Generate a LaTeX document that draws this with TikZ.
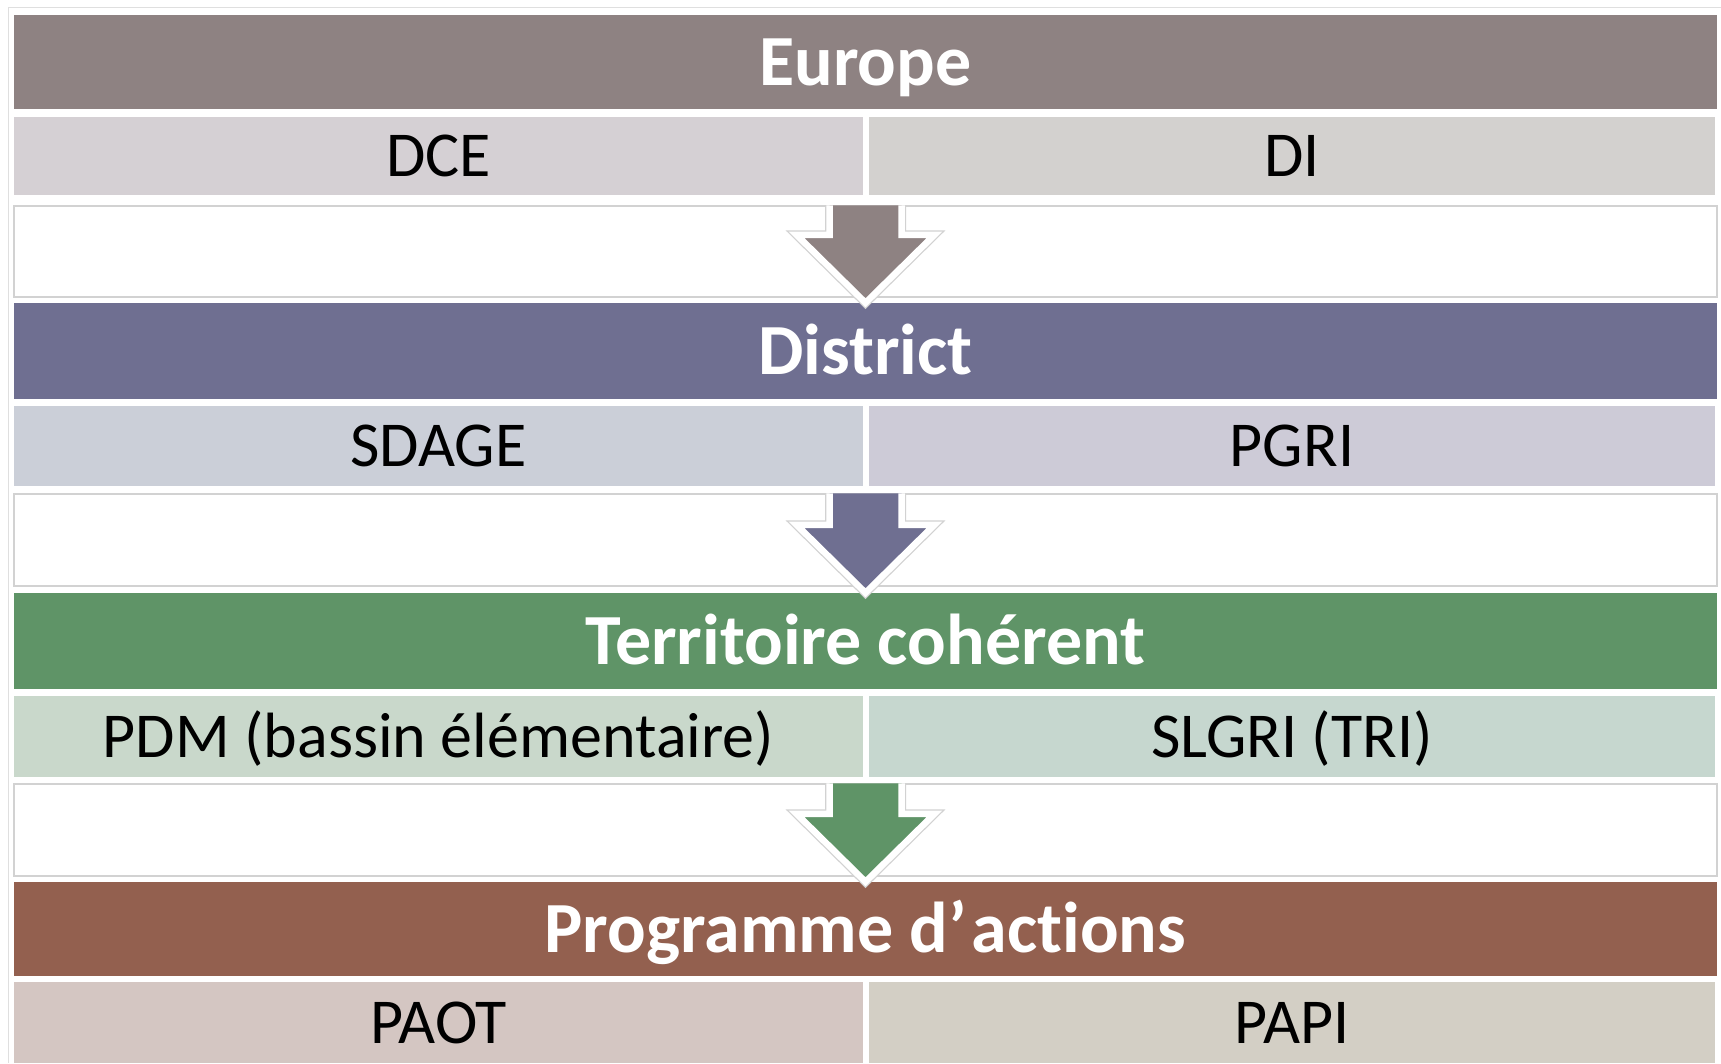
\documentclass[tikz,border=0pt]{standalone}
\usepackage{fontspec}
\setmainfont[Ligatures=NoCommon]{Carlito}
\usetikzlibrary{calc}
\definecolor{cEur}{HTML}{8E8282}
\definecolor{cDCE}{HTML}{D5D0D4}
\definecolor{cDI}{HTML}{D3D1CF}
\definecolor{cDis}{HTML}{6F6F91}
\definecolor{cSDAGE}{HTML}{CBCFD8}
\definecolor{cPGRI}{HTML}{CDCBD7}
\definecolor{cTer}{HTML}{5F9467}
\definecolor{cPDM}{HTML}{C9D8CB}
\definecolor{cSLGRI}{HTML}{C6D7CF}
\definecolor{cProg}{HTML}{93604F}
\definecolor{cPAOT}{HTML}{D4C6C2}
\definecolor{cPAPI}{HTML}{D3CFC5}
\definecolor{frameg}{HTML}{D2D2D2}
\tikzset{
  header/.style={rectangle, inner sep=0pt, minimum width=1703pt, minimum height=#1,
    text=white, font=\fontsize{72}{86}\selectfont\bfseries, text height=46pt, text depth=0pt},
  subcell/.style={rectangle, inner sep=0pt, minimum height=#1,
    text=black, font=\fontsize{64}{76}\selectfont, text height=41pt, text depth=0pt},
  gapbox/.style={rectangle, inner sep=0pt, minimum width=1703pt, minimum height=#1,
    fill=white, draw=frameg, line width=1.5pt},
  arrowout/.style={draw=frameg, line width=9pt, line join=miter},
  arrowin/.style={draw=white, line width=6.5pt, line join=miter, fill=#1},
}
\newcommand{\downarrowshape}[3]{%
  \path[arrowout] ($(#1.north)+(-36,0)$) -- ($(#2.north)+(-36,-68)$) -- ($(#2.north)+(-69,-68)$)
     -- (#2.north) -- ($(#2.north)+(69,-68)$) -- ($(#2.north)+(36,-68)$) -- ($(#1.north)+(36,0)$);
  \path[arrowin=#3] ($(#1.north)+(-36,0)$) -- ($(#2.north)+(-36,-68)$) -- ($(#2.north)+(-69,-68)$)
     -- (#2.north) -- ($(#2.north)+(69,-68)$) -- ($(#2.north)+(36,-68)$) -- ($(#1.north)+(36,0)$);
  \fill[#3] ($(#1.north)+(-32,1)$) rectangle ($(#1.north)+(32,5)$);
}
\begin{document}
\begin{tikzpicture}[x=1pt,y=-1pt]
\useasboundingbox (0,0) rectangle (1721,1063);
\fill[white] (0,0) rectangle (1721,1063);
\draw[frameg!70, line width=1pt] (1721,7) -- (8,7) -- (8,1063);

% level 1
\node[header=94pt, fill=cEur] (h1) at (865.5,62) {Europe};
\node[subcell=78pt, minimum width=849pt, fill=cDCE] (s1l) at (438.5,156) {DCE};
\node[subcell=78pt, minimum width=846pt, fill=cDI] (s1r) at (1292,156) {DI};
\node[gapbox=91pt] (w1) at (865.5,251.5) {};

% level 2
\node[header=96pt, fill=cDis] (h2) at (865.5,351) {District};
\node[subcell=80pt, minimum width=849pt, fill=cSDAGE] (s2l) at (438.5,446) {SDAGE};
\node[subcell=80pt, minimum width=846pt, fill=cPGRI] (s2r) at (1292,446) {PGRI};
\node[gapbox=92pt] (w2) at (865.5,540) {};

% level 3
\node[header=96pt, fill=cTer] (h3) at (865.5,641) {Territoire cohérent};
\node[subcell=81pt, minimum width=849pt, fill=cPDM] (s3l) at (438.5,736.5) {PDM (bassin élémentaire)};
\node[subcell=81pt, minimum width=846pt, fill=cSLGRI] (s3r) at (1292,736.5) {SLGRI (TRI)};
\node[gapbox=92pt] (w3) at (865.5,830) {};

% level 4
\node[header=94pt, fill=cProg] (h4) at (865.5,929) {Programme d’\kern5pt actions};
\node[subcell=81pt, minimum width=849pt, fill=cPAOT] (s4l) at (438.5,1022.5) {PAOT};
\node[subcell=81pt, minimum width=846pt, fill=cPAPI] (s4r) at (1292,1022.5) {PAPI};

% arrows
\downarrowshape{w1}{h2}{cEur}
\downarrowshape{w2}{h3}{cDis}
\downarrowshape{w3}{h4}{cTer}
\end{tikzpicture}
\end{document}
